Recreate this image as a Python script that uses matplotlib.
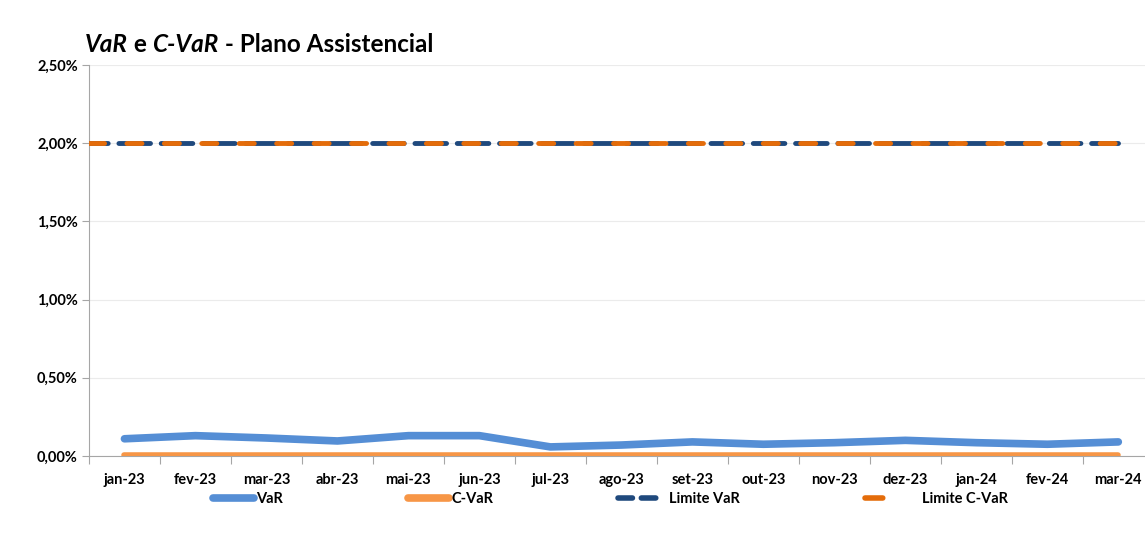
import numpy as np
import matplotlib.pyplot as plt
from matplotlib.lines import Line2D
from matplotlib.ticker import FuncFormatter

plt.rcParams['font.family'] = ['Lato', 'DejaVu Sans']

# data (values in %)
months = ['jan-23', 'fev-23', 'mar-23', 'abr-23', 'mai-23', 'jun-23', 'jul-23',
          'ago-23', 'set-23', 'out-23', 'nov-23', 'dez-23', 'jan-24', 'fev-24', 'mar-24']
var_vals = [0.11, 0.13, 0.115, 0.096, 0.13, 0.13, 0.058,
            0.07, 0.09, 0.075, 0.085, 0.10, 0.085, 0.075, 0.09]
cvar_vals = [0.005] * 15
limite_var = [2.0] * 15
limite_cvar = [2.0] * 15

c_var = '#558ED5'
c_cvar = '#F79646'
c_lim_var = '#1F497D'
c_lim_cvar = '#E46C0A'

x = np.arange(len(months))
# the limit lines start at the left edge of the plot area
x_lim = np.r_[-0.5, x]

fig = plt.figure(figsize=(11.45, 5.35), dpi=100)
ax = fig.add_axes([0.0777, 0.1477, 0.93, 0.7308])

ax.plot(x, var_vals, color=c_var, lw=5.5, solid_capstyle='round',
        solid_joinstyle='round', zorder=3)
ax.plot(x, cvar_vals, color=c_cvar, lw=4, solid_capstyle='round', zorder=3)
ax.plot(x_lim, np.r_[limite_var[0], limite_var], color=c_lim_var, lw=3.5,
        linestyle=(2.65, (6.5, 2.2)), dash_capstyle='round', zorder=4)
ax.plot(x_lim, np.r_[limite_cvar[0], limite_cvar], color=c_lim_cvar, lw=3.5,
        linestyle=(0, (3.1, 4.6)), dash_capstyle='round', zorder=5)

ax.set_xlim(-0.5, len(months) - 0.5)
ax.set_ylim(0, 2.5)
ax.set_yticks(np.arange(0, 2.51, 0.5))
ax.yaxis.set_major_formatter(FuncFormatter(lambda v, p: f'{v:.2f}%'.replace('.', ',')))
ax.grid(axis='y', color='#EBEBEB', lw=0.8)
ax.set_axisbelow(True)

# category labels centred, ticks on category borders
ax.set_xticks(np.arange(-0.5, len(months), 1))
ax.set_xticklabels([])
ax.set_xticks(x, minor=True)
ax.set_xticklabels(months, minor=True)
ax.tick_params(axis='x', which='major', length=6, color='#A6A6A6', direction='out')
ax.tick_params(axis='x', which='minor', length=0, pad=12)
ax.tick_params(axis='y', length=5, color='#A6A6A6', direction='out', pad=3)
for lab in ax.get_xticklabels(minor=True) + ax.get_yticklabels():
    lab.set_fontweight('bold')
    lab.set_fontsize(10.5)

for s in ['top', 'right']:
    ax.spines[s].set_visible(False)
ax.spines['left'].set_color('#A6A6A6')
ax.spines['bottom'].set_color('#A6A6A6')

# title: bold, with VaR / C-VaR in italics, pieces placed one after another
parts = [('VaR', 'italic'), (' e ', 'normal'), ('C-VaR', 'italic'),
         (' - Plano Assistencial', 'normal')]
for txt, st in parts:
    fig.text(0, 0.903, txt, fontsize=17.5, fontweight='bold', style=st, va='baseline')
fig.canvas.draw()
r = fig.canvas.get_renderer()
xpos = 0.074
for t in fig.texts:
    t.set_x(xpos)
    xpos += t.get_window_extent(r).width / fig.bbox.width

handles = [
    Line2D([], [], color=c_var, lw=5.5, solid_capstyle='round'),
    Line2D([], [], color=c_cvar, lw=5.5, solid_capstyle='round'),
    Line2D([], [], color=c_lim_var, lw=4, linestyle=(0, (2.6, 1.6)), dash_capstyle='round'),
    Line2D([], [], color=c_lim_cvar, lw=4, linestyle=(0, (3.2, 6)), dash_capstyle='round'),
]
labels = ['VaR', 'C-VaR', '  Limite VaR', '    Limite C-VaR']
leg = fig.legend(handles, labels, loc='center', bbox_to_anchor=(0.533, 0.068), ncol=4,
                 frameon=False, handlelength=2.8, handletextpad=0.15, columnspacing=8.6,
                 prop={'weight': 'bold', 'size': 10.5})

plt.savefig('out.png')
